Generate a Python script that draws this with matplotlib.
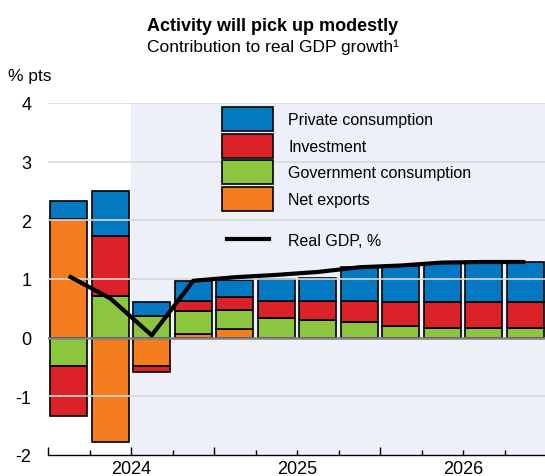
import numpy as np
import matplotlib
matplotlib.use('Agg')
import matplotlib.pyplot as plt
from matplotlib.patches import Patch
from matplotlib.lines import Line2D
from matplotlib.transforms import blended_transform_factory

plt.rcParams['font.family'] = ['Liberation Sans', 'DejaVu Sans']
plt.rcParams['axes.unicode_minus'] = False

# quarterly contributions, % pts
quarters = ['2024Q1', '2024Q2', '2024Q3', '2024Q4',
            '2025Q1', '2025Q2', '2025Q3', '2025Q4',
            '2026Q1', '2026Q2', '2026Q3', '2026Q4']
net_exports = [2.03, -1.78, -0.48, 0.07, 0.14, 0.0, 0.0, 0.0, 0.0, 0.0, 0.0, 0.0]
government = [-0.48, 0.71, 0.37, 0.38, 0.33, 0.34, 0.30, 0.27, 0.20, 0.16, 0.16, 0.16]
investment = [-0.86, 1.02, -0.10, 0.17, 0.23, 0.28, 0.32, 0.36, 0.40, 0.45, 0.45, 0.45]
private = [0.30, 0.77, 0.23, 0.34, 0.28, 0.38, 0.39, 0.57, 0.62, 0.66, 0.67, 0.68]
real_gdp = [1.05, 0.67, 0.04, 0.97, 1.03, 1.07, 1.12, 1.20, 1.23, 1.28, 1.29, 1.29]
years = ['2024', '2025', '2026']
projection_start = 2  # first projected quarter (index)

series = [
    ('Net exports', net_exports, '#f47d20'),
    ('Government consumption', government, '#8cc63f'),
    ('Investment', investment, '#dc2229'),
    ('Private consumption', private, '#0478c0'),
]

fig = plt.figure(figsize=(5.45, 4.77), dpi=100)
ax = fig.add_axes([48 / 545, 21 / 477, 498 / 545, 352 / 477])

x = np.arange(len(quarters))
ax.set_xlim(-0.5, len(quarters) - 0.5)
ax.set_ylim(-2, 4)

ax.axvspan(projection_start - 0.5, len(quarters) - 0.5, color='#edf0f8', zorder=0, lw=0)

pos_base = np.zeros(len(x))
neg_base = np.zeros(len(x))
for name, vals, col in series:
    v = np.array(vals)
    bottom = np.where(v >= 0, pos_base, neg_base)
    ax.bar(x, v, bottom=bottom, width=0.89, color=col, edgecolor='black',
           linewidth=1.2, zorder=2)
    pos_base = pos_base + np.where(v > 0, v, 0)
    neg_base = neg_base + np.where(v < 0, v, 0)

for g in [-1, 1, 2, 3, 4]:
    ax.axhline(g, color='#d9d9d9', lw=1.2, zorder=3)
ax.axhline(0, color='#808080', lw=1.8, zorder=3.5)

ax.plot(x, real_gdp, color='black', lw=3, zorder=4, solid_capstyle='butt')

for s in ['left', 'right', 'top']:
    ax.spines[s].set_visible(False)
ax.spines['bottom'].set_linewidth(1.0)

ax.set_yticks([-2, -1, 0, 1, 2, 3, 4])
ax.tick_params(axis='y', length=0, pad=12, labelsize=13)
ax.set_xticks([-0.5, projection_start - 0.5, 3.5, 7.5, 11.5])
ax.set_xticks(np.arange(-0.5, len(quarters), 1), minor=True)
ax.tick_params(axis='x', which='major', direction='in', length=6, width=1, labelbottom=False)
ax.tick_params(axis='x', which='minor', direction='in', length=3.6, width=1)

trans = blended_transform_factory(ax.transData, ax.transAxes)
for i, yr in enumerate(years):
    ax.text(4 * i + 1.5, -18 / 352, yr, transform=trans, ha='center',
            va='baseline', fontsize=13)

fig.text(8 / 545, 1 - 77 / 477, '% pts', ha='left', va='center', fontsize=12.5)
fig.text(0.5, 1 - 31 / 477, 'Activity will pick up modestly', ha='center',
         va='baseline', fontsize=13, fontweight='bold')
fig.text(0.5, 1 - 52 / 477, 'Contribution to real GDP growth\u00b9', ha='center',
         va='baseline', fontsize=12.5)

handles = [Patch(facecolor=col, edgecolor='black', linewidth=1.2, label=name)
           for name, vals, col in reversed(series)]
leg1 = ax.legend(handles=handles, loc='upper left', frameon=False,
                 bbox_to_anchor=(222 / 545, 1 - 108 / 477),
                 bbox_transform=fig.transFigure, borderpad=0, borderaxespad=0,
                 fontsize=11.5, handlelength=3.2, handleheight=1.93,
                 labelspacing=0.17, handletextpad=0.94)
ax.add_artist(leg1)
ax.legend(handles=[Line2D([], [], color='black', lw=3, label='Real GDP, %')],
          loc='center left', frameon=False,
          bbox_to_anchor=(227 / 545, 1 - 241 / 477),
          bbox_transform=fig.transFigure, borderpad=0, borderaxespad=0,
          fontsize=11.5, handlelength=2.6, handletextpad=1.19)

fig.savefig('out.png', dpi=100)
